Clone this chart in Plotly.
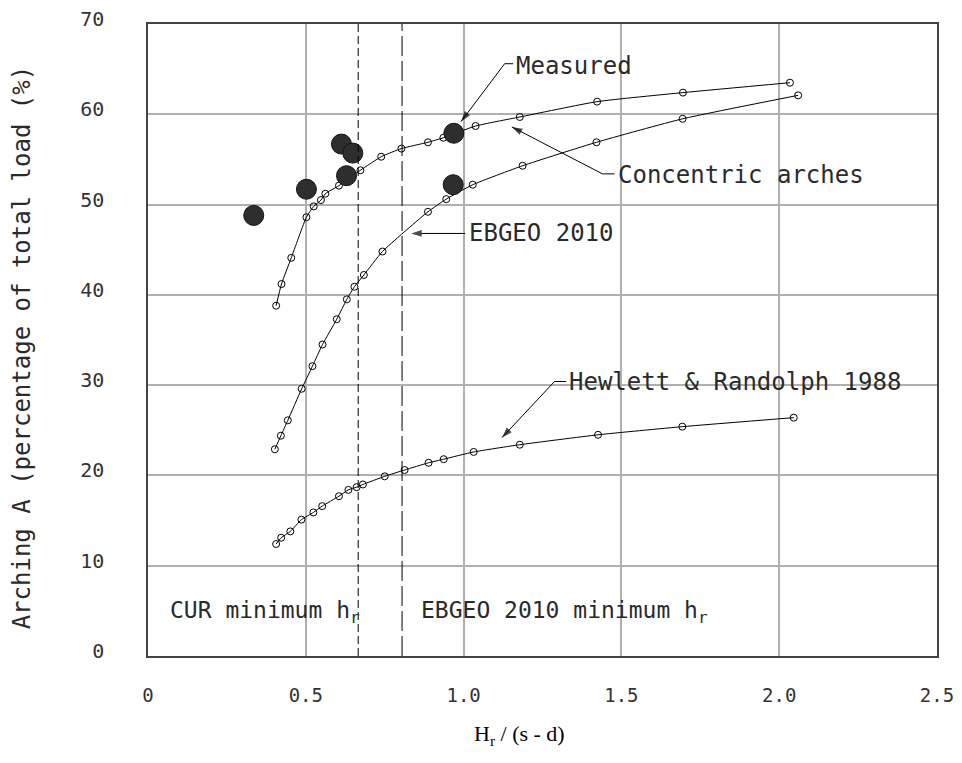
import plotly.graph_objects as go

# ---- data ----
conc_x = [0.406, 0.423, 0.454, 0.502, 0.525, 0.548, 0.562, 0.605, 0.673, 0.739, 0.803, 0.887, 0.936, 1.038, 1.178, 1.423, 1.695, 2.034]
conc_y = [38.8, 41.2, 44.1, 48.6, 49.8, 50.5, 51.2, 52.1, 53.8, 55.3, 56.2, 56.9, 57.4, 58.7, 59.7, 61.4, 62.4, 63.5]

ebgeo_x = [0.402, 0.421, 0.443, 0.487, 0.521, 0.553, 0.598, 0.630, 0.654, 0.684, 0.743, 0.887, 0.945, 1.029, 1.187, 1.421, 1.694, 2.060]
ebgeo_y = [22.9, 24.4, 26.1, 29.6, 32.1, 34.5, 37.3, 39.5, 40.9, 42.2, 44.8, 49.2, 50.6, 52.2, 54.3, 56.9, 59.5, 62.1]

hr_x = [0.406, 0.422, 0.451, 0.486, 0.524, 0.552, 0.605, 0.635, 0.661, 0.681, 0.750, 0.813, 0.889, 0.937, 1.032, 1.178, 1.426, 1.693, 2.046]
hr_y = [12.4, 13.1, 13.8, 15.1, 15.9, 16.6, 17.7, 18.4, 18.7, 19.0, 19.9, 20.6, 21.4, 21.8, 22.6, 23.4, 24.5, 25.4, 26.4]

meas_x = [0.335, 0.502, 0.613, 0.649, 0.629, 0.969, 0.967]
meas_y = [48.8, 51.7, 56.7, 55.7, 53.2, 57.9, 52.2]

cur_min = 0.666
ebgeo_min = 0.805

x_ticks = [0, 0.5, 1.0, 1.5, 2.0, 2.5]
x_ticklabels = ["0", "0.5", "1.0", "1.5", "2.0", "2.5"]
y_ticks = [0, 10, 20, 30, 40, 50, 60, 70]

MONO = "DejaVu Sans Mono"
TXT = "#2a2a2a"

fig = go.Figure()

def curve(x, y):
    fig.add_trace(go.Scatter(
        x=x, y=y, mode="lines+markers",
        line=dict(color="black", width=1, shape="spline", smoothing=0.5),
        marker=dict(symbol="circle-open", size=7, color="black", line=dict(width=1)),
        showlegend=False, hoverinfo="x+y"))

curve(conc_x, conc_y)
curve(ebgeo_x, ebgeo_y)
curve(hr_x, hr_y)

fig.add_trace(go.Scatter(
    x=meas_x, y=meas_y, mode="markers",
    marker=dict(symbol="circle", size=20, color="#2e2e2e", line=dict(color="#111", width=1)),
    showlegend=False))

# vertical dashed lines
fig.add_shape(type="line", xref="x", yref="y", x0=cur_min, x1=cur_min, y0=0, y1=70,
              line=dict(color="black", width=1, dash="8px,4px"))
fig.add_shape(type="line", xref="x", yref="y", x0=ebgeo_min, x1=ebgeo_min, y0=0, y1=70,
              line=dict(color="black", width=1, dash="20px,5px"))

def label(x, y, text, size=24):
    fig.add_annotation(x=x, y=y, xref="x", yref="y", text=text, showarrow=False,
                       xanchor="left", yanchor="middle",
                       font=dict(family=MONO, size=size, color=TXT))

def leader(xs, ys):
    # polyline leader ending in a filled arrowhead at the last point
    n = len(xs)
    fig.add_trace(go.Scatter(
        x=xs, y=ys, mode="lines+markers",
        line=dict(color="black", width=1),
        marker=dict(symbol=["circle"] * (n - 1) + ["arrow"], size=[0] * (n - 1) + [11],
                    angleref="previous", color="black", line=dict(width=0)),
        showlegend=False, hoverinfo="skip"))

# Measured
label(1.160, 65.4, "Measured")
leader([1.157, 1.130, 0.992], [65.6, 65.6, 59.2])
# Concentric arches
label(1.482, 53.3, "Concentric arches")
leader([1.478, 1.440, 1.153], [53.4, 53.4, 58.6])
# EBGEO 2010
label(1.010, 46.8, "EBGEO 2010")
leader([1.005, 0.834], [46.8, 46.8])
# Hewlett & Randolph
label(1.328, 30.4, "Hewlett & Randolph 1988")
leader([1.325, 1.288, 1.122], [30.4, 30.4, 24.2])

# minimum labels
label(0.062, 4.9, "CUR minimum h<sub>r</sub>", size=23)
label(0.858, 4.9, "EBGEO 2010 minimum h<sub>r</sub>", size=23)

# axis titles
fig.add_annotation(xref="paper", yref="paper", x=-0.16, y=0.488, xanchor="center", yanchor="middle",
                   text="Arching A (percentage of total load (%)", textangle=-90, showarrow=False,
                   font=dict(family=MONO, size=24, color=TXT))
fig.add_annotation(xref="paper", yref="paper", x=0.471, y=-0.125, xanchor="center", yanchor="middle",
                   text="H<sub>r</sub> / (s - d)", showarrow=False,
                   font=dict(family="Liberation Serif", size=22, color="black"))

fig.update_layout(
    width=962, height=763,
    margin=dict(l=148, r=25, t=24, b=107, autoexpand=False),
    paper_bgcolor="white", plot_bgcolor="white",
    xaxis=dict(range=[0, 2.5], tickvals=x_ticks, ticktext=x_ticklabels,
               showgrid=True, gridcolor="#b0b0b0", gridwidth=1.5,
               showline=True, linecolor="#444", linewidth=1.5, mirror=True,
               ticks="", zeroline=False, ticklabelstandoff=21, automargin=False,
               tickfont=dict(family=MONO, size=19, color="#333")),
    yaxis=dict(range=[0, 70], tickvals=y_ticks,
               showgrid=True, gridcolor="#b0b0b0", gridwidth=1.5,
               showline=True, linecolor="#444", linewidth=1.5, mirror=True,
               ticks="", zeroline=False, ticklabelstandoff=38, ticklabelshift=-5,
               automargin=False,
               tickfont=dict(family=MONO, size=20, color="#333")),
    showlegend=False,
)

fig.write_html("out.html")
